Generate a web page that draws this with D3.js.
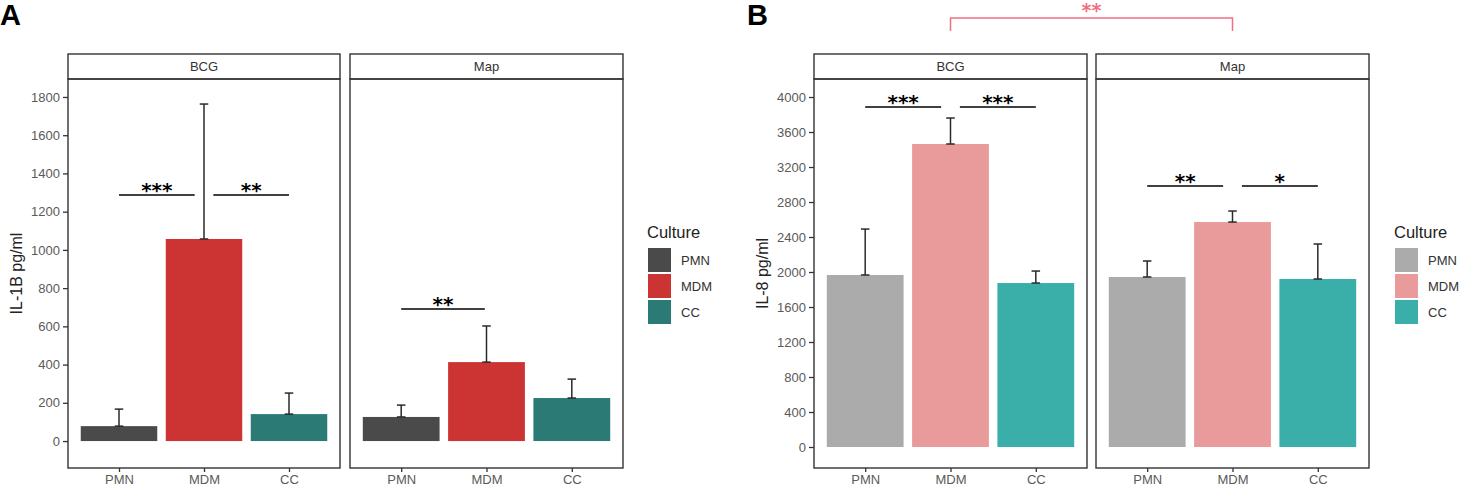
<!DOCTYPE html>
<html>
<head>
<meta charset="utf-8">
<script src="https://cdn.jsdelivr.net/npm/d3@7"></script>
<style>
  html, body { margin: 0; padding: 0; background: #fff; }
  svg { display: block; font-family: "Liberation Sans", Arial, sans-serif; }
</style>
</head>
<body>
<svg id="chart" width="1461" height="488"></svg>
<script>
// ---------------- DATA ----------------
const categories = ["PMN", "MDM", "CC"];
const facets = ["BCG", "Map"];

// Panel A: IL-1B pg/ml (mean and upper error bound)
const il1bMeanBCG  = [78, 1057, 141];
const il1bUpperBCG = [167, 1763, 251];
const il1bMeanMap  = [126, 413, 225];
const il1bUpperMap = [188, 602, 324];
const il1bTicks = [0, 200, 400, 600, 800, 1000, 1200, 1400, 1600, 1800];
const il1bDomain = [-141, 1894];

// Panel B: IL-8 pg/ml
const il8MeanBCG  = [1966, 3463, 1874];
const il8UpperBCG = [2491, 3760, 2011];
const il8MeanMap  = [1943, 2571, 1920];
const il8UpperMap = [2126, 2697, 2320];
const il8Ticks = [0, 400, 800, 1200, 1600, 2000, 2400, 2800, 3200, 3600, 4000];
const il8Domain = [-240, 4206];

// significance annotations: [xmin index, xmax index, y value, label]
const sigA_BCG = [[0, 0.89, 1287, "***"], [1.11, 2, 1287, "**"]];
const sigA_Map = [[0, 0.98, 691, "**"]];
const sigB_BCG = [[0, 0.89, 3886, "***"], [1.11, 2, 3886, "***"]];
const sigB_Map = [[0, 0.89, 2983, "**"], [1.11, 2, 2983, "*"]];
const sigB_between = "**";

const colorsA = ["#4a4a4a", "#cc3333", "#2b7a75"];
const colorsB = ["#ababab", "#e99a9a", "#3aafa9"];

// ---------------- DRAW ----------------
const svg = d3.select("#chart");
const frameColor = "#333";
const plotTop = 79, plotBottom = 468, stripTop = 54;

function drawFacet(g, left, right, yScale, means, uppers, colors, facetName, sig, showY, ticks) {
  const x = d3.scaleLinear().domain([-0.6, categories.length - 0.4]).range([left, right]);
  const barW = 0.9, capW = 0.05;

  // strip
  g.append("rect").attr("x", left).attr("y", stripTop).attr("width", right - left)
    .attr("height", plotTop - stripTop).attr("fill", "#fff")
    .attr("stroke", frameColor).attr("stroke-width", 1.4);
  g.append("text").attr("x", (left + right) / 2).attr("y", (stripTop + plotTop) / 2 + 4.5)
    .attr("text-anchor", "middle").attr("font-size", 13).attr("fill", "#333").text(facetName);

  // bars
  g.selectAll(".bar").data(categories).enter().append("rect")
    .attr("x", (d, i) => x(i - barW / 2))
    .attr("width", (d, i) => x(i + barW / 2) - x(i - barW / 2))
    .attr("y", (d, i) => yScale(means[i]))
    .attr("height", (d, i) => yScale(0) - yScale(means[i]))
    .attr("fill", (d, i) => colors[i]);

  // error bars
  const eb = g.selectAll(".eb").data(categories).enter().append("g")
    .attr("stroke", "#2a2a2a").attr("stroke-width", 1.5).attr("fill", "none");
  eb.append("line").attr("x1", (d, i) => x(i)).attr("x2", (d, i) => x(i))
    .attr("y1", (d, i) => yScale(means[i])).attr("y2", (d, i) => yScale(uppers[i]));
  eb.append("line").attr("x1", (d, i) => x(i - capW)).attr("x2", (d, i) => x(i + capW))
    .attr("y1", (d, i) => yScale(uppers[i])).attr("y2", (d, i) => yScale(uppers[i]));
  eb.append("line").attr("x1", (d, i) => x(i - capW)).attr("x2", (d, i) => x(i + capW))
    .attr("y1", (d, i) => yScale(means[i])).attr("y2", (d, i) => yScale(means[i]));

  // significance
  sig.forEach(s => {
    g.append("line").attr("x1", x(s[0])).attr("x2", x(s[1]))
      .attr("y1", yScale(s[2])).attr("y2", yScale(s[2]))
      .attr("stroke", "#000").attr("stroke-width", 1.5);
    g.append("text").attr("x", (x(s[0]) + x(s[1])) / 2).attr("y", yScale(s[2]) + 2)
      .attr("text-anchor", "middle").attr("font-family", "DejaVu Sans")
      .attr("font-weight", "bold").attr("font-size", 20).attr("fill", "#000").text(s[3]);
  });

  // panel frame
  g.append("rect").attr("x", left).attr("y", plotTop).attr("width", right - left)
    .attr("height", plotBottom - plotTop).attr("fill", "none")
    .attr("stroke", frameColor).attr("stroke-width", 1.4);

  // x axis
  const xa = g.append("g").attr("transform", `translate(0,${plotBottom})`)
    .call(d3.axisBottom(x).tickValues(categories.map((d, i) => i))
      .tickFormat(i => categories[i]).tickSize(4).tickPadding(3));
  xa.select(".domain").remove();
  xa.selectAll("line").attr("stroke", frameColor).attr("stroke-width", 1.3);
  xa.selectAll("text").attr("font-size", 13).attr("fill", "#5a5a5a")
    .attr("font-family", "Liberation Sans, Arial, sans-serif");

  if (showY) {
    const ya = g.append("g").attr("transform", `translate(${left},0)`)
      .call(d3.axisLeft(yScale).tickValues(ticks).tickFormat(d3.format("d"))
        .tickSize(5).tickPadding(3));
    ya.select(".domain").remove();
    ya.selectAll("line").attr("stroke", frameColor).attr("stroke-width", 1.3);
    ya.selectAll("text").attr("font-size", 13).attr("fill", "#5a5a5a")
      .attr("font-family", "Liberation Sans, Arial, sans-serif");
  }
  return x;
}

function drawLegend(g, x0, colors) {
  g.append("text").attr("x", x0).attr("y", 238).attr("font-size", 16.5)
    .attr("fill", "#222").text("Culture");
  categories.forEach((c, i) => {
    const y0 = 248 + i * 26;
    g.append("rect").attr("x", x0 + 1).attr("y", y0).attr("width", 23).attr("height", 24)
      .attr("fill", colors[i]);
    g.append("text").attr("x", x0 + 34).attr("y", y0 + 12 + 4.5).attr("font-size", 13)
      .attr("fill", "#333").text(c);
  });
}

// ----- Panel A -----
const gA = svg.append("g");
const yA = d3.scaleLinear().domain(il1bDomain).range([plotBottom, plotTop]);
drawFacet(gA, 68, 340, yA, il1bMeanBCG, il1bUpperBCG, colorsA, facets[0], sigA_BCG, true, il1bTicks);
drawFacet(gA, 350, 623, yA, il1bMeanMap, il1bUpperMap, colorsA, facets[1], sigA_Map, false, il1bTicks);
gA.append("text").attr("transform", `translate(22,${(plotTop + plotBottom) / 2}) rotate(-90)`)
  .attr("text-anchor", "middle").attr("font-size", 16).attr("fill", "#222").text("IL-1B pg/ml");
drawLegend(gA, 647, colorsA);
gA.append("text").attr("x", 0).attr("y", 25).attr("font-size", 29).attr("font-weight", "bold")
  .attr("fill", "#000").text("A");

// ----- Panel B -----
const gB = svg.append("g");
const yB = d3.scaleLinear().domain(il8Domain).range([plotBottom, plotTop]);
const xB1 = drawFacet(gB, 814, 1087, yB, il8MeanBCG, il8UpperBCG, colorsB, facets[0], sigB_BCG, true, il8Ticks);
const xB2 = drawFacet(gB, 1096, 1369, yB, il8MeanMap, il8UpperMap, colorsB, facets[1], sigB_Map, false, il8Ticks);
gB.append("text").attr("transform", `translate(768,${(plotTop + plotBottom) / 2}) rotate(-90)`)
  .attr("text-anchor", "middle").attr("font-size", 16).attr("fill", "#222").text("IL-8 pg/ml");
drawLegend(gB, 1394, colorsB);
gB.append("text").attr("x", 747).attr("y", 25).attr("font-size", 29).attr("font-weight", "bold")
  .attr("fill", "#000").text("B");

// between-facet bracket (MDM BCG vs MDM Map)
const bx1 = xB1(1), bx2 = xB2(1);
gB.append("path").attr("d", `M${bx1},31 L${bx1},18 L${bx2},18 L${bx2},31`)
  .attr("fill", "none").attr("stroke", "#ef7080").attr("stroke-width", 1.5);
gB.append("text").attr("x", (bx1 + bx2) / 2).attr("y", 17)
  .attr("text-anchor", "middle").attr("font-family", "DejaVu Sans").attr("font-weight", "bold")
  .attr("font-size", 19).attr("fill", "#ef7080").text(sigB_between);
</script>
</body>
</html>
